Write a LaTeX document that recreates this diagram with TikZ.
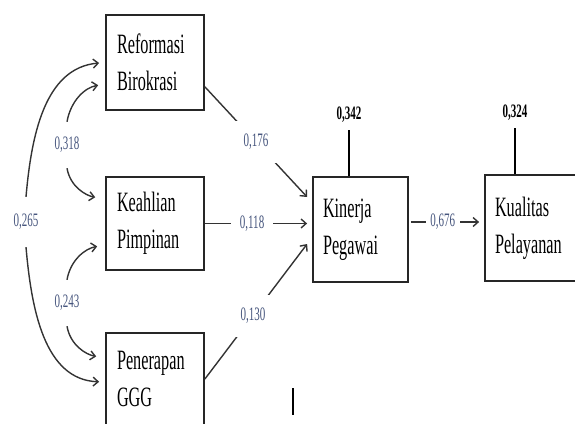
\documentclass[tikz,border=0pt]{standalone}
\usepackage{fontspec}
\setmainfont{Liberation Serif}
\newfontfamily\cfont[FakeStretch=0.58]{Liberation Serif}
\usetikzlibrary{arrows.meta,calc}
\definecolor{numc}{RGB}{70,85,125}
\begin{document}
\begin{tikzpicture}[x=1pt,y=1pt,
  box/.style={draw=black!85, line width=1.8pt, minimum width=98pt, text width=76pt, inner xsep=11pt, inner ysep=0pt, align=left, font=\cfont\fontsize{28}{37}\selectfont},
  conn/.style={draw=black!80, line width=1.4pt},
  arr/.style={conn, -{Straight Barb[length=5pt,width=9pt]}},
  coef/.style={text=numc, font=\cfont\fontsize{19}{22}\selectfont, inner sep=0pt},
  mid/.style={coef, fill=white, minimum width=42pt, minimum height=42pt},
  side/.style={coef, minimum width=30pt, minimum height=46pt},
  err/.style={font=\cfont\bfseries\fontsize{19}{22}\selectfont, inner sep=0pt, minimum height=30pt},
  errline/.style={draw=black, line width=1.2pt}]
\useasboundingbox (0,0) rectangle (575,-423);
\clip (0,0) rectangle (575,-423);

% boxes
\node[box, minimum height=95pt] (ref) at (155,-62.5) {Reformasi\\Birokrasi};
\node[box, minimum height=93pt] (kea) at (155,-223.5) {Keahlian\\Pimpinan};
\node[box, minimum height=92pt] (pen) at (155,-379) {Penerapan\\GGG};
\node[box, minimum width=95pt, text width=75pt, inner xsep=10pt, minimum height=105pt] (kin) at (360.5,-229.5) {Kinerja\\Pegawai};
\node[box, minimum width=98pt, text width=78pt, inner xsep=10pt, minimum height=106pt] (kua) at (534,-228) {Kualitas\\Pelayanan};

% paths into Kinerja
\draw[arr] (ref.-26.6) -- node[mid, pos=0.5]{0,176} ($(kin.west)+(-5,32.5)$);
\draw[arr, shorten >=5pt] (kea.east) -- node[mid, pos=0.44]{0,118} (kea.east -| kin.west);
\draw[arr] (pen.east) -- node[mid, pos=0.47]{0,130} ($(kin.west)+(-5,-14.5)$);

% Kinerja -> Kualitas
\coordinate (k1) at ($(kin.east)+(0,7.5)$);
\draw[arr, shorten <=2pt, shorten >=5pt] (k1) -- node[mid, minimum width=34pt, pos=0.45]{0,676} (k1 -| kua.west);

% residuals
\node[err] (e1) at (349,-115) {0,342};
\draw[errline] (e1.south) -- (e1.south |- kin.north);
\node[err] (e2) at (515,-113) {0,324};
\draw[errline] (e2.south) -- (e2.south |- kua.north);

% correlations
\node[side] (s318) at (67,-145) {0,318};
\node[side] (s243) at (67,-303) {0,243};
\node[side, minimum height=50pt] (s265) at (26,-222) {0,265};

\draw[arr, shorten >=7pt] (s318.north) to[out=80,in=190] ($(ref.west)+(0,-21.5)$);
\draw[arr, shorten >=10pt] (s318.south) to[out=-80,in=170] ($(kea.west)+(0,24.5)$);
\draw[arr, shorten >=8pt] (s243.north) to[out=80,in=190] ($(kea.west)+(0,-21.5)$);
\draw[arr, shorten >=9pt] (s243.south) to[out=-80,in=170] ($(pen.west)+(0,21)$);
\draw[arr, shorten >=6pt] (s265.north) to[out=85,in=185] (ref.west);
\draw[arr, shorten >=6pt] (s265.south) to[out=-85,in=178] ($(pen.west)+(0,-3)$);

% stray mark
\coordinate (b1) at (293,-388);
\coordinate (b2) at (293,-415);
\draw[line width=2.2pt] (b1) -- (b2);
\end{tikzpicture}
\end{document}
